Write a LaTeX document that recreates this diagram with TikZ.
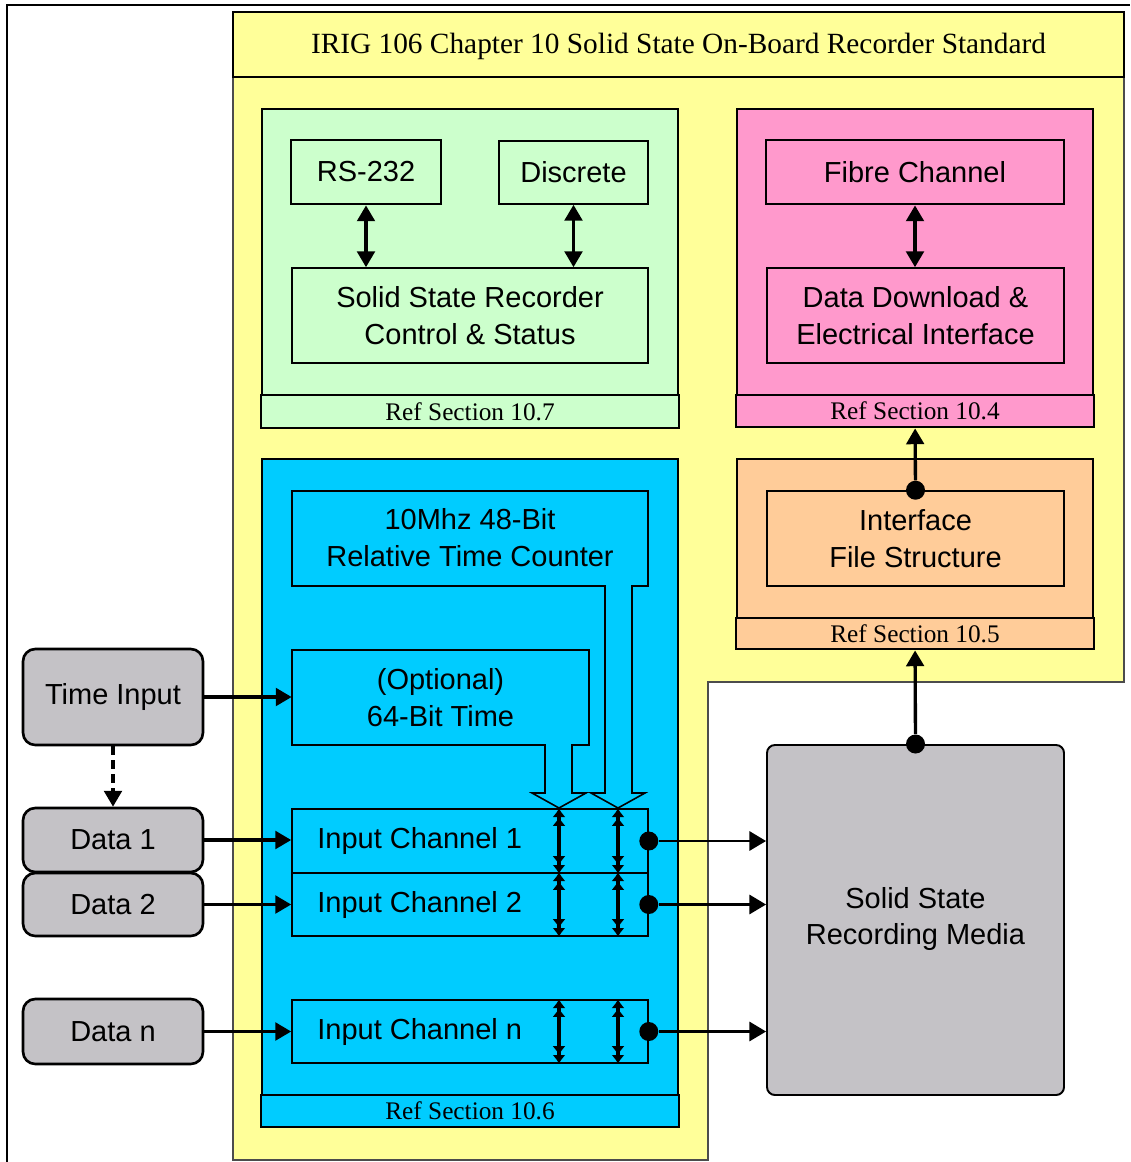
\documentclass[tikz,border=0pt]{standalone}
\usepackage{fontspec}
\setmainfont{Liberation Serif}
\setsansfont{Liberation Sans}
\usepackage{xcolor}
\usepackage{tikz}
\usetikzlibrary{arrows.meta, positioning, fit, calc}

\tikzset{
  lbl/.style={font=\sffamily\fontsize{16.5}{21}\selectfont, align=center},
  reftxt/.style={font=\fontsize{14.4}{16}\selectfont},
  blk/.style={draw, line width=0.9pt, inner sep=0pt},
  blkthick/.style={blk, line width=1.6pt},
  panel/.style={draw, line width=1.1pt, inner sep=0pt},
  refbar/.style={draw, line width=1.6pt, inner sep=0pt},
  srcbox/.style={draw, line width=1.5pt, rounded corners=7pt, fill=cinza, inner sep=0pt},
  arr/.style={line width=1.9pt, -{Triangle[length=9pt, width=10pt]}},
  darr/.style={line width=1.9pt, {Triangle[length=9pt, width=10pt]}-{Triangle[length=9pt, width=10pt]}},
  fino/.style={line width=1.3pt, -{Triangle[length=9.5pt, width=11pt]}},
  dbl/.style={line width=1.8pt, {Latex[length=5pt, width=7.5pt]Latex[length=5pt, width=7.5pt]}-{Latex[length=5pt, width=7.5pt]Latex[length=5pt, width=7.5pt]}},
  dot/.style={circle, fill=black, inner sep=0pt, minimum size=0.38cm},
}

\begin{document}
\begin{tikzpicture}[x=0.02cm, y=-0.02cm]
% --- CORES HEX ---
\definecolor{amarelo}{HTML}{FFFF99}
\definecolor{verde}{HTML}{CCFFCC}
\definecolor{rosa}{HTML}{FF99CC}
\definecolor{laranja}{HTML}{FFCC99}
\definecolor{azul}{HTML}{00CCFF}
\definecolor{cinza}{HTML}{C4C2C6}

\useasboundingbox (0,0) rectangle (1130,1162);

% LAYER 1: Moldura e fundo do padrao
\draw[line width=1.3pt] (7,1162) -- (7,5) -- (1130,5);
\draw[fill=amarelo, draw=black!70, line width=0.6pt] (233,12) -- (1124,12) -- (1124,682) -- (708,682) -- (708,1160) -- (233,1160) -- cycle;
\node[refbar, fill=amarelo, fit={(233,12) (1124,77)}] (tit) {};
\node[font=\fontsize{16.7}{20}\selectfont] (tTit) at ($(tit)+(0,2)$) {IRIG 106 Chapter 10 Solid State On-Board Recorder Standard};

% LAYER 2: Controle (10.7)
\node[panel, fill=verde, fit={(262,109) (678,395)}] (pCtl) {};
\node[blkthick, fill=verde, fit={(291,140) (441,204)}] (rs) {};
\node[blk, fill=verde, fit={(499,141) (648,204)}] (disc) {};
\node[blk, fill=verde, fit={(292,268) (648,363)}] (ctl) {};
\node[refbar, fill=verde, fit={(261,395) (679,428)}] (ref7) {};
\node[lbl] (tRs) at (rs) {RS-232};
\node[lbl] (tDisc) at (disc) {Discrete};
\node[lbl] (tCtl) at (ctl) {Solid State Recorder\\Control \& Status};
\node[reftxt] (tRef7) at (ref7) {Ref Section 10.7};
\draw[darr] (rs.south) -- (rs.south |- ctl.north);
\draw[darr] (disc.south) -- (disc.south |- ctl.north);

% LAYER 3: Download (10.4) e arquivo (10.5)
\node[panel, fill=rosa, fit={(737,109) (1093,395)}] (pDl) {};
\node[blkthick, fill=rosa, fit={(766,140) (1064,204)}] (fc) {};
\node[blk, fill=rosa, fit={(767,268) (1064,363)}] (dl) {};
\node[refbar, fill=rosa, fit={(736,395) (1094,427)}] (ref4) {};
\node[lbl] (tFc) at (fc) {Fibre Channel};
\node[lbl] (tDl) at (dl) {Data Download \&\\Electrical Interface};
\node[reftxt] (tRef4) at (ref4) {Ref Section 10.4};
\draw[darr] (fc.south) -- (fc.south |- dl.north);

\node[panel, fill=laranja, fit={(737,459) (1093,618)}] (pIf) {};
\node[blk, fill=laranja, fit={(767,491) (1064,586)}] (ifs) {};
\node[refbar, fill=laranja, fit={(736,618) (1094,649)}] (ref5) {};
\node[lbl] (tIfs) at (ifs) {Interface\\File Structure};
\node[reftxt] (tRef5) at (ref5) {Ref Section 10.5};
\node[dot] (dIf) at (ifs.north) {};
\draw[arr] (dIf) -- (ref4);

% LAYER 4: Entradas (10.6)
\node[panel, fill=azul, fit={(262,459) (678,1095)}] (pIn) {};
\node[refbar, fill=azul, fit={(261,1095) (679,1127)}] (ref6) {};
\node[reftxt] (tRef6) at (ref6) {Ref Section 10.6};
\draw[fill=azul, line width=0.9pt] (292,491) -- (648,491) -- (648,586) -- (632,586) -- (632,793) -- (645,793) -- (618,808) -- (591,793) -- (605,793) -- (605,586) -- (292,586) -- cycle;
\node[lbl] (rtc) at (470,538) {10Mhz 48-Bit\\Relative Time Counter};
\draw[fill=azul, line width=0.9pt] (292,650) -- (589,650) -- (589,745) -- (572,745) -- (572,793) -- (586,793) -- (559,808) -- (532,793) -- (545,793) -- (545,745) -- (292,745) -- cycle;
\node[inner sep=0pt, fit={(292,650) (589,745)}] (opt) {};
\node[lbl] (tOpt) at (opt) {(Optional)\\64-Bit Time};

\node[blk, fill=azul, fit={(292,809) (648,873)}] (ch1) {};
\node[blk, fill=azul, fit={(292,873) (648,936)}] (ch2) {};
\node[blk, fill=azul, fit={(292,1000) (648,1063)}] (chn) {};
\node[lbl, right=0.4cm of ch1.west] (tCh1) {Input Channel 1};
\node[lbl, right=0.4cm of ch2.west] (tCh2) {Input Channel 2};
\node[lbl, right=0.4cm of chn.west] (tChn) {Input Channel n};

\coordinate (xA) at (559,0);
\coordinate (xB) at (618,0);
\foreach \c in {ch1, ch2, chn} {
  \draw[dbl] (xA |- \c.north) -- (xA |- \c.south);
  \draw[dbl] (xB |- \c.north) -- (xB |- \c.south);
}

% LAYER 5: Midia e fontes externas
\node[srcbox, rounded corners=4.5pt, line width=1.1pt, fit={(767,745) (1064,1095)}] (ssrm) {};
\node[lbl] (tSsrm) at ($(ssrm)+(0,-1)$) {Solid State\\Recording Media};
\node[dot] (dMd) at (ssrm.north) {};
\draw[arr] (dMd) -- (ref5);

\node[dot] (dot1) at (ch1.east) {};
\node[dot] (dot2) at (ch2.east) {};
\node[dot] (dotn) at (chn.east) {};
\draw[fino] (dot1) -- (dot1 -| ssrm.west);
\draw[fino] (dot2) -- (dot2 -| ssrm.west);
\draw[fino] (dotn) -- (dotn -| ssrm.west);

\node[srcbox, fit={(23,649) (203,745)}] (ti) {};
\node[srcbox, fit={(23,808) (203,872)}] (src1) {};
\node[srcbox, fit={(23,873) (203,936)}] (src2) {};
\node[srcbox, fit={(23,999) (203,1064)}] (srcn) {};
\node[lbl] (tTi) at (ti) {Time Input};
\node[lbl] (tSrc1) at (src1) {Data 1};
\node[lbl] (tSrc2) at (src2) {Data 2};
\node[lbl] (tSrcn) at (srcn) {Data n};
\draw[arr] (ti) -- (ti -| opt.west);
\draw[arr, dash pattern=on 5pt off 3pt] (ti) -- (src1);
\draw[arr] (src1) -- (src1 -| ch1.west);
\draw[arr] (src2) -- (src2 -| ch2.west);
\draw[arr] (srcn) -- (srcn -| chn.west);
\end{tikzpicture}
\end{document}
